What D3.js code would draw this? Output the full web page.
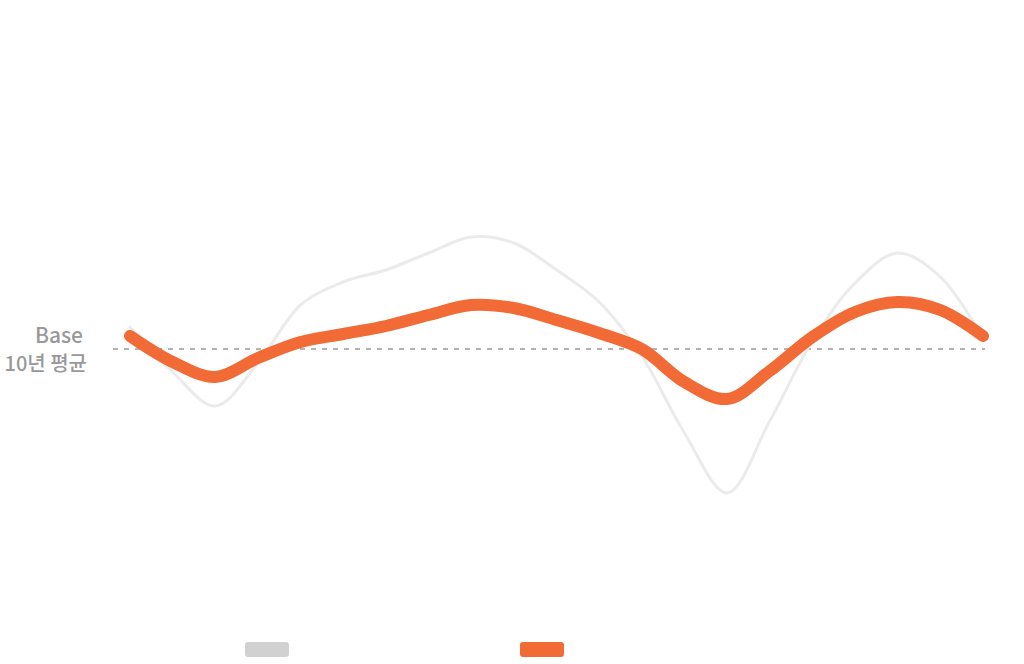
<!DOCTYPE html>
<html>
<head>
<meta charset="utf-8">
<script src="https://cdn.jsdelivr.net/npm/d3@7"></script>
<style>
  html, body { margin: 0; padding: 0; background: #fff; }
  svg { display: block; }
</style>
</head>
<body>
<div id="chart"></div>
<script>
// weekly points, deviation from the 10 year average
var weeks = d3.range(0, 21)
var avgSeries = [2.2, -2.3, -5.7, -1.4, 4.4, 6.7, 7.9, 9.6, 11.2, 10.6, 7.9, 4.7, -0.7, -8.4, -14.4, -7.2, 0.8, 6.6, 9.6, 7.2, 1.1]
var thisSeries = [1.3, -1.3, -2.8, -0.9, 0.7, 1.5, 2.3, 3.4, 4.4, 4.1, 2.9, 1.6, 0.0, -3.3, -5.0, -2.2, 1.2, 3.7, 4.7, 3.9, 1.3]
var baseValue = 0
var baseLabel = ["Base", "10년 평균"]
var legendKeys = ["avg", "this"]
var legendColors = ["#d1d1d1", "#f26a35"]

var WD = 1024, HT = 664

var svg = d3.select("#chart").append("svg")
    .attr("width", WD)
    .attr("height", HT)

var xs = d3.scaleLinear().domain([0, 20]).range([130, 983])
var ys = d3.scaleLinear().domain([-25, 25]).range([599, 99])

var line = d3.line()
    .x(function(d, i) { return xs(weeks[i]) })
    .y(function(d) { return ys(d) })
    .curve(d3.curveCatmullRom.alpha(0.5))

// base line (10 year average)
svg.append("line")
    .attr("x1", 113)
    .attr("x2", 985)
    .attr("y1", ys(baseValue))
    .attr("y2", ys(baseValue))
    .attr("stroke", "#9a9a9a")
    .attr("stroke-width", 1.3)
    .attr("stroke-dasharray", "5,6")

svg.append("path")
    .attr("d", line(avgSeries))
    .attr("fill", "none")
    .attr("stroke", "#ebebeb")
    .attr("stroke-width", 3)
    .attr("stroke-linecap", "round")

svg.append("path")
    .attr("d", line(thisSeries))
    .attr("fill", "none")
    .attr("stroke", "#f26a35")
    .attr("stroke-width", 12)
    .attr("stroke-linecap", "round")
    .attr("stroke-linejoin", "round")

// base label
svg.append("text")
    .attr("x", 83)
    .attr("y", ys(baseValue) - 6)
    .attr("text-anchor", "end")
    .attr("font-family", "'Noto Sans CJK KR', 'Noto Sans', sans-serif")
    .attr("font-size", "21px")
    .attr("font-weight", 500)
    .attr("fill", "#999")
    .text(baseLabel[0])

svg.append("text")
    .attr("x", 87)
    .attr("y", ys(baseValue) + 22)
    .attr("text-anchor", "end")
    .attr("font-family", "'Noto Sans CJK KR', 'Noto Sans', sans-serif")
    .attr("font-size", "20px")
    .attr("font-weight", 500)
    .attr("fill", "#999")
    .text(baseLabel[1])

// legend swatches
var lx = d3.scalePoint().domain(legendKeys).range([245, 520])
svg.selectAll(".legend")
    .data(legendKeys)
    .enter()
    .append("rect")
      .attr("class", "legend")
      .attr("x", function(d) { return lx(d) })
      .attr("y", 642)
      .attr("width", 44)
      .attr("height", 15)
      .attr("rx", 3)
      .attr("fill", function(d, i) { return legendColors[i] })
</script>
</body>
</html>
